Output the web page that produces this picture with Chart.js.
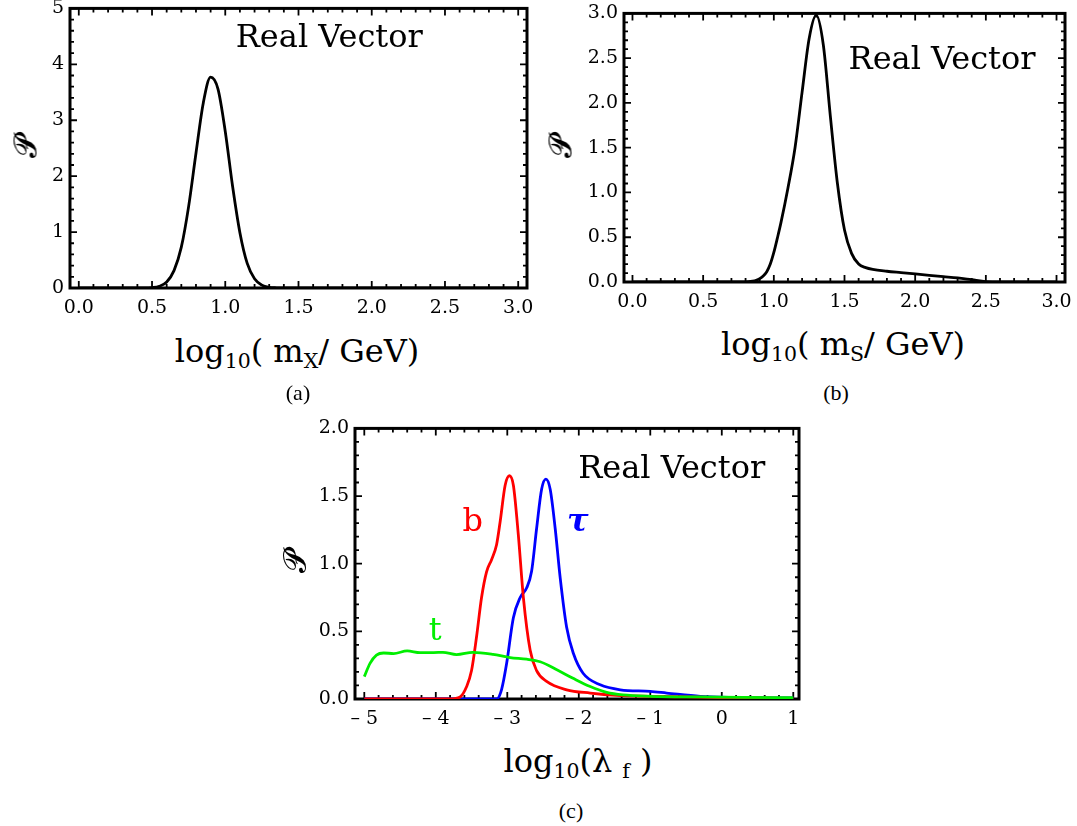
<!DOCTYPE html>
<html>
<head>
<meta charset="utf-8">
<script src="https://cdn.jsdelivr.net/npm/chart.js@4.4.0/dist/chart.umd.min.js"></script>
<style>
  body { margin: 0; background: #fff; width: 1077px; height: 826px; position: relative; overflow: hidden; font-family: "DejaVu Serif", serif; }
  canvas { position: absolute; }
  .ttl { position: absolute; font-size: 32px; line-height: 32px; white-space: nowrap; transform: translateX(-50%); color: #000; }
  .ttl sub { font-size: 0.64em; line-height: 0; vertical-align: -0.3em; }
  .cap { position: absolute; font-family: "Liberation Serif", serif; font-size: 22px; line-height: 22px; transform: translateX(-50%); }
  .pl { position: absolute; font-size: 31px; line-height: 31px; transform: translate(-50%, -50%) rotate(-90deg); }
</style>
</head>
<body>
<canvas id="chartA"></canvas>
<canvas id="chartB"></canvas>
<canvas id="chartC"></canvas>

<div class="pl" style="left:25px; top:147px;">𝓟</div>
<div class="pl" style="left:560px; top:147px;">𝓟</div>
<div class="pl" style="left:294px; top:562px;">𝓟</div>

<div class="ttl" style="left:297px; top:335px;">log<sub>10</sub>( m<sub>X</sub>/ GeV)</div>
<div class="ttl" style="left:843px; top:328px;">log<sub>10</sub>( m<sub>S</sub>/ GeV)</div>
<div class="ttl" style="left:578px; top:745px;">log<sub>10</sub>(λ <sub>f</sub> )</div>

<div class="cap" style="left:298px; top:382px;">(a)</div>
<div class="cap" style="left:836px; top:382px;">(b)</div>
<div class="cap" style="left:571px; top:800px;">(c)</div>

<script>
// panel (a): m_X
const mxX = [0, 0.45, 0.5, 0.55, 0.6, 0.65, 0.7, 0.75, 0.8, 0.85, 0.9, 0.95, 1.0, 1.05, 1.1, 1.15, 1.2, 1.25, 1.3, 1.35, 1.4, 3.0];
const mxP = [0, 0.001, 0.007, 0.031, 0.107, 0.31, 0.73, 1.46, 2.41, 3.31, 3.77, 3.56, 2.80, 1.82, 0.99, 0.44, 0.166, 0.052, 0.013, 0.003, 0, 0];

// panel (b): m_S
const msX = [0, 0.78, 0.82, 0.85, 0.875, 0.9, 0.925, 0.95, 0.975, 1.0, 1.025, 1.05, 1.1, 1.15, 1.2, 1.25, 1.3, 1.35, 1.4, 1.45, 1.5, 1.55, 1.6, 1.65, 1.7, 1.8, 1.9, 2.0, 2.1, 2.2, 2.3, 2.4, 2.5, 2.6, 3.0];
const msP = [0, 0, 0.003, 0.01, 0.02, 0.038, 0.068, 0.115, 0.2, 0.33, 0.49, 0.66, 1.05, 1.5, 2.12, 2.72, 2.98, 2.65, 1.85, 1.1, 0.58, 0.32, 0.2, 0.16, 0.14, 0.12, 0.105, 0.09, 0.075, 0.06, 0.045, 0.025, 0.005, 0, 0];

// panel (c): couplings
const tX = [-5.0, -4.92, -4.83, -4.73, -4.59, -4.4, -4.22, -4.03, -3.9, -3.71, -3.48, -3.2, -2.96, -2.73, -2.54, -2.3, -2.08, -1.84, -1.61, -1.38, -1.0, -0.3, 0.3, 1.0];
const tP = [0.165, 0.263, 0.324, 0.34, 0.336, 0.355, 0.343, 0.343, 0.345, 0.328, 0.345, 0.33, 0.306, 0.294, 0.275, 0.214, 0.153, 0.092, 0.049, 0.03, 0.02, 0.015, 0.012, 0.01];
const bX = [-5.0, -3.8, -3.66, -3.57, -3.5, -3.43, -3.36, -3.29, -3.22, -3.15, -3.1, -3.03, -2.97, -2.915, -2.845, -2.775, -2.68, -2.59, -2.45, -2.17, -1.84, -1.47, -1.0, -0.5, 0, 1.0];
const bP = [0, 0, 0.015, 0.09, 0.21, 0.46, 0.75, 0.94, 1.03, 1.14, 1.31, 1.58, 1.65, 1.58, 1.21, 0.75, 0.36, 0.21, 0.13, 0.068, 0.044, 0.027, 0.02, 0.015, 0.01, 0.005];
const tauX = [-5.0, -3.15, -3.08, -3.01, -2.915, -2.82, -2.73, -2.66, -2.59, -2.52, -2.46, -2.40, -2.33, -2.26, -2.17, -2.075, -1.94, -1.70, -1.42, -1.0, -0.77, -0.3, 0.16, 1.0];
const tauP = [0, 0, 0.07, 0.26, 0.60, 0.75, 0.82, 0.944, 1.26, 1.55, 1.625, 1.55, 1.26, 0.895, 0.53, 0.336, 0.19, 0.105, 0.068, 0.056, 0.044, 0.02, 0.012, 0.008];

// tick labels
const xTicksMass = [0, 0.5, 1, 1.5, 2, 2.5, 3];
const yTicksA = [0, 1, 2, 3, 4, 5];
const yTicksB = [0, 0.5, 1, 1.5, 2, 2.5, 3];
const xTicksC = [-5, -4, -3, -2, -1, 0, 1];
const yTicksC = [0, 0.5, 1, 1.5, 2];

const tickFont = { family: 'DejaVu Serif', size: 19 };
const noteFont = '32px "DejaVu Serif"';

// frame with inward major + minor ticks on all four sides
function framePlugin(minor) {
  return {
    id: 'frame',
    beforeDatasetsDraw(chart) {
      const { ctx, chartArea: a, scales: { x, y } } = chart;
      ctx.save();
      ctx.strokeStyle = '#000';
      ctx.lineWidth = 1.8;
      const steps = (min, max, st) => {
        const out = [];
        for (let k = Math.ceil(min / st - 1e-9); k * st <= max + 1e-9; k++) out.push(k * st);
        return out;
      };
      const isMajor = (v, list) => list.some(t => Math.abs(t - v) < 1e-6);
      ctx.beginPath();
      steps(x.min, x.max, minor.x).forEach(v => {
        const px = x.getPixelForValue(v);
        const len = isMajor(v, x.ticks.map(t => t.value)) ? 7 : 4;
        ctx.moveTo(px, a.bottom); ctx.lineTo(px, a.bottom - len);
        ctx.moveTo(px, a.top); ctx.lineTo(px, a.top + len);
      });
      steps(y.min, y.max, minor.y).forEach(v => {
        const py = y.getPixelForValue(v);
        const len = isMajor(v, y.ticks.map(t => t.value)) ? 7 : 4;
        ctx.moveTo(a.left, py); ctx.lineTo(a.left + len, py);
        ctx.moveTo(a.right, py); ctx.lineTo(a.right - len, py);
      });
      ctx.stroke();
      ctx.lineWidth = 3;
      ctx.strokeRect(a.left, a.top, a.right - a.left, a.bottom - a.top);
      ctx.restore();
    }
  };
}

// text placed in data coordinates
function notesPlugin(notes) {
  return {
    id: 'notes',
    afterDatasetsDraw(chart) {
      const { ctx, scales: { x, y } } = chart;
      ctx.save();
      ctx.textAlign = 'center';
      ctx.textBaseline = 'alphabetic';
      notes.forEach(n => {
        ctx.font = n.font || noteFont;
        ctx.fillStyle = n.color || '#000';
        ctx.fillText(n.text, x.getPixelForValue(n.x), y.getPixelForValue(n.y));
      });
      ctx.restore();
    }
  };
}

function series(xs, ys, color) {
  return {
    data: xs.map((v, i) => ({ x: v, y: ys[i] })),
    borderColor: color,
    borderWidth: 2.8,
    pointRadius: 0,
    cubicInterpolationMode: 'monotone',
    fill: false
  };
}

function panel(id, rect, xr, yr, xTicks, yTicks, fmtX, fmtY, minor, datasets, notes) {
  const wy = 64, pt = 14, pr = 22, hx = 40;
  const cv = document.getElementById(id);
  const w = Math.round(rect.R + pr - (rect.L - wy));
  const h = Math.round(rect.B + hx - (rect.T - pt));
  cv.width = w; cv.height = h;
  cv.style.width = w + 'px'; cv.style.height = h + 'px';
  cv.style.left = (rect.L - wy) + 'px';
  cv.style.top = (rect.T - pt) + 'px';

  return new Chart(cv, {
    type: 'line',
    data: { datasets },
    options: {
      responsive: false,
      animation: false,
      devicePixelRatio: 1,
      layout: { padding: { left: 0, top: pt, right: pr, bottom: 0 } },
      plugins: { legend: { display: false }, tooltip: { enabled: false } },
      scales: {
        x: {
          type: 'linear', min: xr[0], max: xr[1],
          grid: { display: false, drawTicks: false },
          border: { display: false },
          afterBuildTicks: s => { s.ticks = xTicks.map(v => ({ value: v })); },
          afterFit: s => { s.height = hx; },
          ticks: { padding: 9, color: '#000', font: tickFont, autoSkip: false, maxRotation: 0, callback: fmtX }
        },
        y: {
          type: 'linear', min: yr[0], max: yr[1],
          grid: { display: false, drawTicks: false },
          border: { display: false },
          afterBuildTicks: s => { s.ticks = yTicks.map(v => ({ value: v })); },
          afterFit: s => { s.width = wy; },
          ticks: { padding: 6, color: '#000', font: tickFont, autoSkip: false, callback: fmtY }
        }
      }
    },
    plugins: [framePlugin(minor), notesPlugin(notes)]
  });
}

const oneDec = v => Number(v).toFixed(1);
const plain = v => String(v);
const signed = v => v < 0 ? '\u2013 ' + Math.abs(v) : String(v);

panel('chartA', { L: 70, T: 5, R: 527, B: 288 }, [-0.06, 3.06], [0, 5],
  xTicksMass, yTicksA, oneDec, plain, { x: 0.1, y: 0.2 },
  [series(mxX, mxP, '#000')],
  [{ text: 'Real Vector', x: 1.71, y: 4.31 }]);

panel('chartB', { L: 624, T: 10, R: 1065, B: 282 }, [-0.06, 3.06], [0, 3],
  xTicksMass, yTicksB, oneDec, oneDec, { x: 0.1, y: 0.1 },
  [series(msX, msP, '#000')],
  [{ text: 'Real Vector', x: 2.19, y: 2.38 }]);

panel('chartC', { L: 355, T: 425, R: 799, B: 699 }, [-5.13, 1.08], [0, 2],
  xTicksC, yTicksC, signed, oneDec, { x: 0.2, y: 0.1 },
  [series(tX, tP, '#00ee00'), series(bX, bP, '#ff0000'), series(tauX, tauP, '#0000ff')],
  [
    { text: 'Real Vector', x: -0.70, y: 1.636 },
    { text: 'b', x: -3.484, y: 1.24, color: '#ff0000' },
    { text: '\u03c4', x: -2.013, y: 1.24, color: '#0000ff', font: 'italic bold 32px "DejaVu Serif"' },
    { text: 't', x: -4.008, y: 0.433, color: '#00ee00' }
  ]);
</script>
</body>
</html>
